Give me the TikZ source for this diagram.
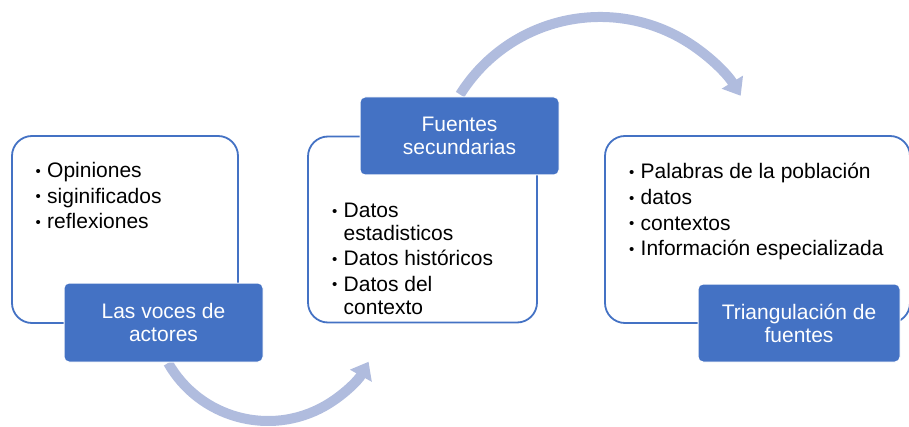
\documentclass[tikz,border=0pt]{standalone}
\usepackage{fontspec}
\setmainfont{Liberation Sans}
\usetikzlibrary{arrows.meta,calc}
\definecolor{accent}{HTML}{4472C4}
\definecolor{arcc}{HTML}{B0BCDE}
\newcommand{\bulitem}{\makebox[11.5pt][l]{\raisebox{1.5pt}{\fontsize{15}{15}\selectfont •}}}
\newcommand{\contind}{\hspace*{11.5pt}}
\begin{document}
\begin{tikzpicture}[x=1pt,y=1pt,
  box/.style={draw=accent, line width=1.8pt, rounded corners=20pt, fill=white, inner sep=0pt},
  lab/.style={fill=accent, draw=white, line width=1pt, rounded corners=5pt, text=white, align=center, inner sep=0pt, font=\fontsize{21}{23}\selectfont},
  listtext/.style={anchor=base west, inner sep=0pt, text=black},
  flow/.style={draw=arcc, line width=10pt, -{Triangle[width=24pt,length=16pt]}}]
\useasboundingbox (0,0) rectangle (909,426);
% arrows
\coordinate (c1) at (268,120);
\coordinate (c2) at (600,244);
\coordinate (s1) at ($(c1)+(209.7:115)$);
\coordinate (s2) at ($(c2)+(148:165)$);
\draw[flow] (s1) arc[start angle=209.7, end angle=331, radius=115pt];
\draw[flow] (s2) arc[start angle=148, end angle=31.5, radius=165pt];
% boxes
\node[box, minimum width=226pt, minimum height=187pt] (b1) at (125,196.5) {};
\node[box, minimum width=229pt, minimum height=186pt] (b2) at (422.5,196.5) {};
\node[box, minimum width=305pt, minimum height=187pt] (b3) at (757.5,196.5) {};
% lists
\node[listtext] (t1) at (35.5,248) {\parbox[t]{200pt}{\fontsize{21}{25.5}\selectfont\raggedright
  \bulitem Opiniones\\\bulitem siginificados\\\bulitem reflexiones}};
\node[listtext] (t2) at (332,208) {\parbox[t]{200pt}{\fontsize{21}{22.5}\selectfont\raggedright
  \bulitem Datos\\\contind estadisticos\\[3pt]\bulitem Datos históricos\\[3pt]\bulitem Datos del\\\contind contexto}};
\node[listtext] (t3) at (629,247) {\parbox[t]{270pt}{\fontsize{21}{25.5}\selectfont\raggedright
  \bulitem Palabras de la población\\\bulitem datos\\\bulitem contextos\\\bulitem Información especializada}};
% labels
\node[lab, minimum width=199pt, minimum height=79pt] (l1) at (163.5,103.5) {Las voces de\\actores};
\node[lab, minimum width=199pt, minimum height=78pt] (l2) at (459.5,290) {Fuentes\\secundarias};
\node[lab, minimum width=202pt, minimum height=78pt] (l3) at (799,103) {Triangulación de\\fuentes};
\end{tikzpicture}
\end{document}
